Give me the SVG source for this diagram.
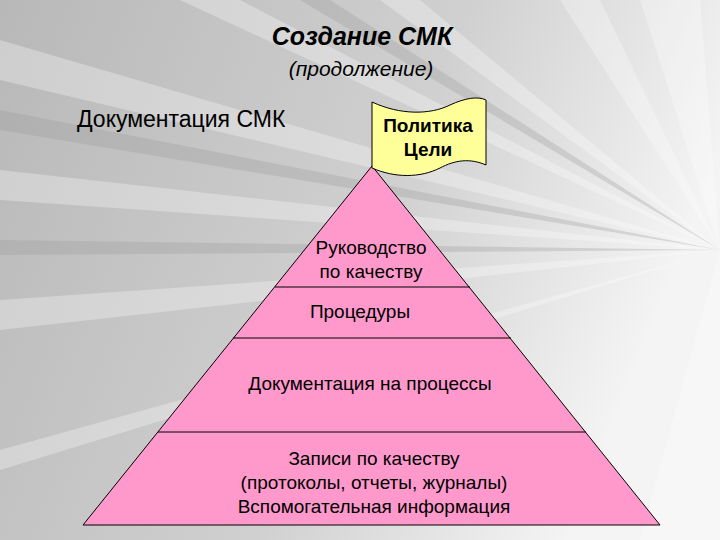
<svg xmlns="http://www.w3.org/2000/svg" width="720" height="540" viewBox="0 0 720 540">
<defs>
<linearGradient id="bg" x1="0" y1="0" x2="1" y2="0.3">
<stop offset="0" stop-color="#b8b8b8"/><stop offset="0.6" stop-color="#d0d0d0"/><stop offset="1" stop-color="#f4f4f4"/>
</linearGradient>
</defs>
<style>
.t{font-family:"Liberation Sans",Arial,sans-serif;fill:#000}
.ray{fill:#ffffff}
.dark{fill:#9a9a9a}
.sep{stroke:#000;stroke-width:1}
</style>
<rect width="720" height="540" fill="url(#bg)"/>
<g opacity="0.3">
<polygon class="ray" points="720,250 0,40 0,80"/>
<polygon class="ray" points="720,250 0,170 0,200"/>
<polygon class="ray" points="720,250 0,300 0,330"/>
<polygon class="ray" points="720,250 0,450 0,470"/>
<polygon class="ray" points="720,250 180,0 240,0"/>
<polygon class="ray" points="720,250 380,0 420,0"/>
<polygon class="ray" points="720,250 560,0 600,0"/>
<polygon class="ray" points="720,250 640,0 700,0"/>
<polygon class="dark" points="720,250 0,110 0,130"/>
<polygon class="dark" points="720,250 0,240 0,255"/>
<polygon class="dark" points="720,250 300,0 330,0"/>
<polygon class="ray" points="720,250 720,540 640,540"/>
</g>
<g id="title">
<text class="t" x="362" y="45" text-anchor="middle" font-size="25" font-weight="bold" font-style="italic">Создание СМК</text>
<text class="t" x="361" y="76" text-anchor="middle" font-size="21" font-style="italic">(продолжение)</text>
</g>
<g id="label">
<text class="t" x="77" y="127" font-size="23">Документация СМК</text>
</g>
<g id="pyramid">
<polygon points="372,166 83,525 660,525" fill="#ff99cc" stroke="#000" stroke-width="1"/>
<line class="sep" x1="275" y1="287" x2="470" y2="287"/>
<line class="sep" x1="233" y1="338" x2="511" y2="338"/>
<line class="sep" x1="158" y1="432" x2="586" y2="432"/>
</g>
<g id="n1"><text class="t" font-size="19" text-anchor="middle"><tspan x="371" y="254">Руководство</tspan><tspan x="371" y="278">по качеству</tspan></text></g>
<g id="n2"><text class="t" font-size="19" text-anchor="middle" x="360" y="318">Процедуры</text></g>
<g id="n3"><text class="t" font-size="19" text-anchor="middle" x="370" y="390">Документация на процессы</text></g>
<g id="n4"><text class="t" font-size="19" text-anchor="middle"><tspan x="374" y="465">Записи по качеству</tspan><tspan x="374" y="489">(протоколы, отчеты,  журналы)</tspan><tspan x="374" y="513">Вспомогательная информация</tspan></text></g>
<g id="flag">
<path d="M372,102 C400,115 430,115 450,105 C465,98 478,96 486,100 L486,165 C470,158 455,160 440,168 C420,178 395,178 372,168 Z" fill="#ffff99" stroke="#000" stroke-width="1"/>
<text class="t" font-size="19" font-weight="bold" text-anchor="middle"><tspan x="428" y="132">Политика</tspan><tspan x="428" y="156">Цели</tspan></text>
</g>
</svg>
